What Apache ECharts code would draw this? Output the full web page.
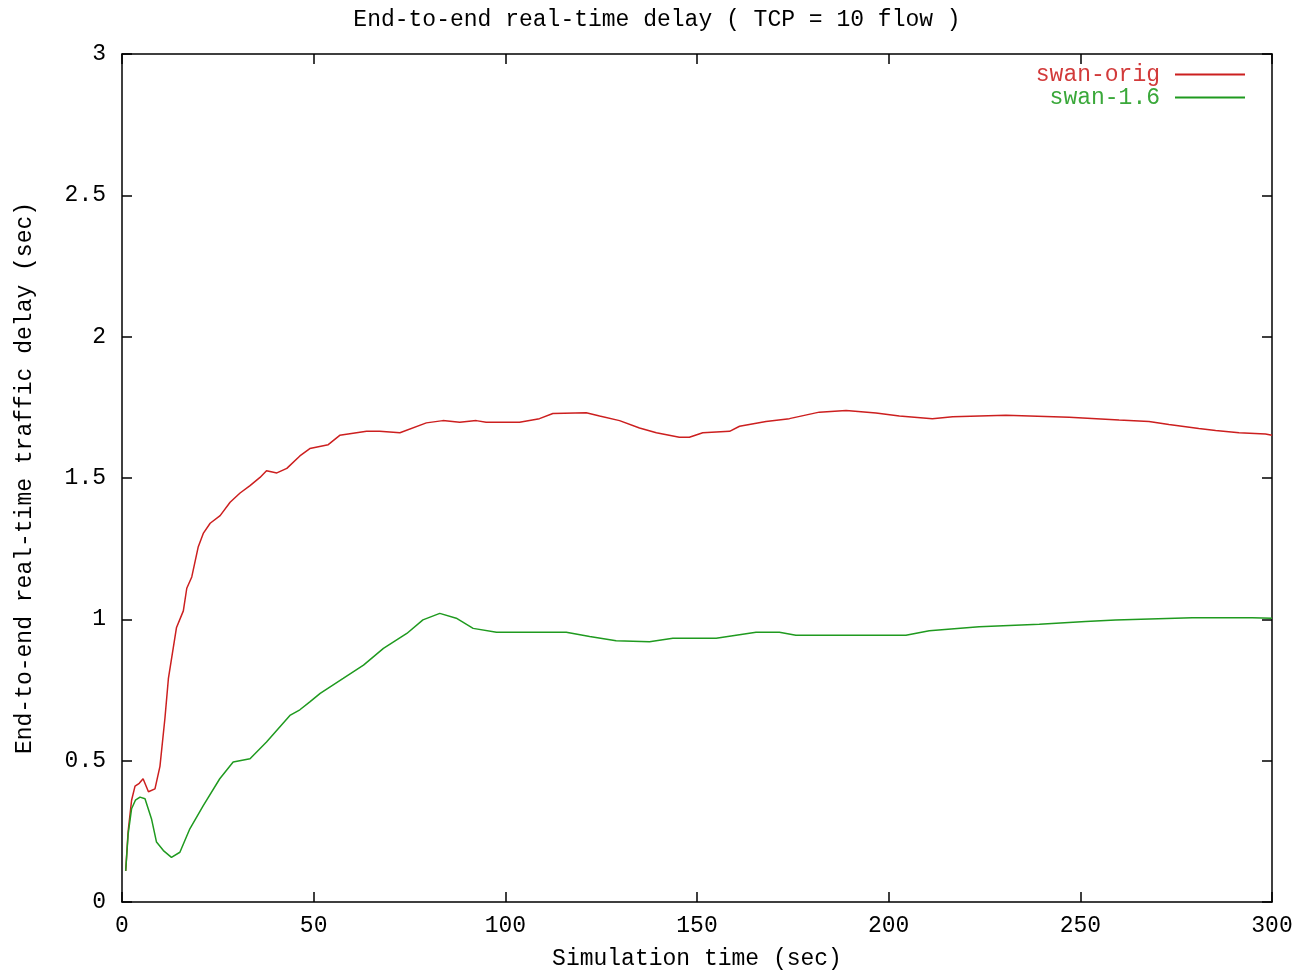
<!DOCTYPE html>
<html>
<head>
<meta charset="utf-8">
<script src="https://cdn.jsdelivr.net/npm/echarts@6/dist/echarts.min.js"></script>
<style>
html,body{margin:0;padding:0;background:#fff;}
#chart{width:1314px;height:972px;}
</style>
</head>
<body>
<div id="chart"></div>
<script>
var titleText = 'End-to-end real-time delay ( TCP = 10 flow )';
var xName = 'Simulation time (sec)';
var yName = 'End-to-end real-time traffic delay (sec)';
var seriesNames = ['swan-orig', 'swan-1.6'];

var origTime = [0.96,1.6,2.5,3.4,4.5,5.5,6.9,8.6,9.9,11.2,12.1,14.2,16.0,16.9,18.2,19.9,21.2,23.0,25.6,28.2,30.8,33.4,36.0,37.7,40.4,43.0,46.4,49.0,53.8,56.8,63.8,67.2,72.5,79.4,83.7,88.1,92.4,95.0,103.7,108.9,112.4,121.1,124.6,129.8,135.0,139.4,145.4,148.0,151.5,158.5,161.1,168.0,174.1,181.9,188.9,196.7,202.8,211.4,216.7,230.6,247.1,260.1,267.9,273.1,280.9,285.3,291.4,298.3,300];
var origDelay = [0.11,0.25,0.36,0.41,0.42,0.436,0.39,0.40,0.48,0.65,0.79,0.97,1.03,1.11,1.15,1.257,1.304,1.34,1.367,1.414,1.447,1.473,1.502,1.526,1.518,1.534,1.578,1.604,1.618,1.651,1.665,1.665,1.66,1.695,1.703,1.697,1.703,1.697,1.697,1.71,1.728,1.731,1.719,1.703,1.677,1.66,1.644,1.644,1.66,1.665,1.683,1.70,1.71,1.733,1.739,1.73,1.719,1.71,1.717,1.722,1.715,1.705,1.70,1.689,1.675,1.668,1.66,1.656,1.651];

var newTime = [0.96,1.6,2.5,3.5,4.7,6.0,7.7,9.0,10.8,12.9,15.1,17.7,21.2,25.5,29.0,33.4,37.7,43.8,46.4,49.0,51.7,57.7,63.0,68.2,74.3,78.5,82.9,87.2,91.6,97.7,115.9,122.0,128.9,137.6,143.7,155.0,165.4,171.5,175.8,204.5,210.6,223.6,239.3,251.4,259.2,279.2,294.8,300];
var newDelay = [0.11,0.24,0.33,0.36,0.371,0.365,0.294,0.212,0.182,0.158,0.176,0.259,0.341,0.436,0.495,0.507,0.566,0.66,0.68,0.708,0.738,0.791,0.838,0.897,0.95,0.998,1.021,1.004,0.968,0.954,0.954,0.939,0.924,0.921,0.933,0.933,0.954,0.954,0.944,0.944,0.96,0.974,0.983,0.992,0.998,1.006,1.006,1.004];

var xTicks = {min: 0, max: 300, interval: 50};
var yTicks = {min: 0, max: 3, interval: 0.5};

function pairs(xs, ys) { return xs.map(function (x, i) { return [x, ys[i]]; }); }

var FONT = 'Liberation Mono';
var lineColors = ['#cc1f1f', '#1f9a1f'];
var legendColors = ['#d23a3a', '#3aa83a'];

var chart = echarts.init(document.getElementById('chart'), null, {renderer: 'canvas'});
var axisLine = {show: true, onZero: false, lineStyle: {color: '#000', width: 1.5}};
var tick = {show: true, inside: true, length: 10, lineStyle: {color: '#000', width: 1.5}};

chart.setOption({
  animation: false,
  backgroundColor: '#fff',
  title: {
    text: titleText, left: 'center', top: 3,
    textStyle: {fontFamily: FONT, fontSize: 23, fontWeight: 'normal', color: '#000'}
  },
  legend: {
    orient: 'vertical', right: 64, top: 58, align: 'right', itemGap: 0,
    itemWidth: 70, itemHeight: 2, icon: 'rect',
    textStyle: {fontFamily: FONT, fontSize: 23, lineHeight: 23, padding: [0, 10, 0, 0]},
    data: [
      {name: seriesNames[0], textStyle: {color: legendColors[0]}},
      {name: seriesNames[1], textStyle: {color: legendColors[1]}}
    ]
  },
  grid: {left: 122, right: 42, top: 54, bottom: 70, containLabel: false, outerBoundsMode: 'none'},
  xAxis: [{
    type: 'value', min: xTicks.min, max: xTicks.max, interval: xTicks.interval,
    name: xName, nameLocation: 'middle', nameGap: 45,
    nameTextStyle: {fontFamily: FONT, fontSize: 23, color: '#000'},
    axisLine: axisLine, axisTick: tick, splitLine: {show: false},
    axisLabel: {fontFamily: FONT, fontSize: 23, color: '#000', margin: 12}
  }, {
    type: 'value', position: 'top', min: xTicks.min, max: xTicks.max, interval: xTicks.interval,
    axisLine: axisLine, axisTick: tick, splitLine: {show: false}, axisLabel: {show: false}
  }],
  yAxis: [{
    type: 'value', min: yTicks.min, max: yTicks.max, interval: yTicks.interval,
    name: yName, nameLocation: 'middle', nameGap: 86, nameRotate: 90,
    nameTextStyle: {fontFamily: FONT, fontSize: 23, color: '#000'},
    axisLine: axisLine, axisTick: tick, splitLine: {show: false},
    axisLabel: {fontFamily: FONT, fontSize: 23, color: '#000', margin: 16,
      formatter: function (v) { return String(v); }}
  }, {
    type: 'value', position: 'right', min: yTicks.min, max: yTicks.max, interval: yTicks.interval,
    axisLine: axisLine, axisTick: tick, splitLine: {show: false}, axisLabel: {show: false}
  }],
  series: [{
    name: seriesNames[0], type: 'line', showSymbol: false, symbol: 'none',
    data: pairs(origTime, origDelay), color: lineColors[0],
    lineStyle: {color: lineColors[0], width: 1.5}
  }, {
    name: seriesNames[1], type: 'line', showSymbol: false, symbol: 'none',
    data: pairs(newTime, newDelay), color: lineColors[1],
    lineStyle: {color: lineColors[1], width: 1.5}
  }]
});
</script>
</body>
</html>
